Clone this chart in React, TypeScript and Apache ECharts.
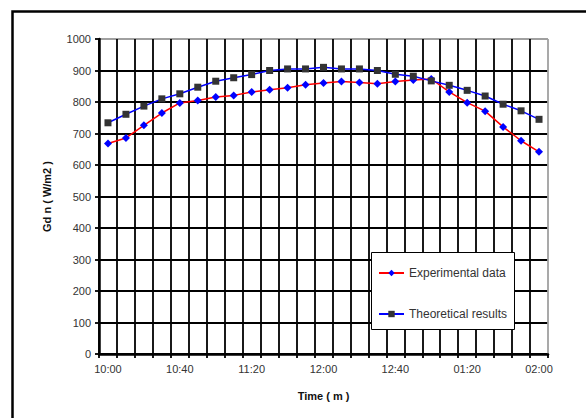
import React, { useEffect, useRef } from "react";
import * as echarts from "echarts";

const categories = [
  "10:00", "10:10", "10:20", "10:30", "10:40", "10:50",
  "11:00", "11:10", "11:20", "11:30", "11:40", "11:50",
  "12:00", "12:10", "12:20", "12:30", "12:40", "12:50",
  "01:00", "01:10", "01:20", "01:30", "01:40", "01:50", "02:00",
];

const experimental = [
  668, 686, 726, 765, 797, 805, 816, 821, 832, 839, 845, 855, 860,
  865, 862, 858, 865, 870, 873, 832, 798, 771, 721, 677, 642,
];

const theoretical = [
  734, 761, 787, 810, 826, 847, 866, 877, 887, 900, 905, 905, 910,
  905, 905, 900, 888, 882, 867, 853, 837, 819, 793, 772, 745,
];

const seriesNames = ["Experimental data", "Theoretical results"];
const yAxisName = "Gd n ( W/m2 )";
const xAxisName = "Time ( m )";

const FONT = "'Liberation Sans', Arial, sans-serif";

// split line colours: black everywhere, grey on the plot's outer (top/right) edge
const xSplitColors = [...categories.map(() => "#000"), "#a0a0a0"];
const ySplitColors = [
  "#000", "#000", "#000", "#000", "#000", "#000",
  "#000", "#000", "#000", "#000", "#a0a0a0",
];

export default function App() {
  const ref = useRef<HTMLDivElement>(null);

  useEffect(() => {
    if (!ref.current) return;
    const chart = echarts.init(ref.current, undefined, { renderer: "svg" });
    chart.setOption({
      animation: false,
      backgroundColor: "#ffffff",
      textStyle: { fontFamily: FONT },
      grid: {
        left: 99,
        top: 39,
        right: 38,
        bottom: 64,
        show: false,
      },
      graphic: [
        {
          type: "polyline",
          z: 10,
          shape: { points: [[12.5, 420], [12.5, 11.5], [590, 11.5]] },
          style: { stroke: "#000", lineWidth: 2.5, fill: "none" },
        },
        {
          type: "rect",
          z: 3,
          shape: { x: 371.5, y: 252.5, width: 143, height: 77 },
          style: { fill: "#fff", stroke: "#000", lineWidth: 1 },
        },
      ],
      legend: {
        data: seriesNames,
        orient: "vertical",
        left: 378,
        top: 267,
        padding: 0,
        itemGap: 29,
        itemWidth: 25,
        itemHeight: 8,
        z: 5,
        textStyle: { fontSize: 12, color: "#333", fontFamily: FONT },
      },
      xAxis: {
        type: "category",
        data: categories,
        boundaryGap: true,
        name: xAxisName,
        nameLocation: "middle",
        nameGap: 36,
        nameTextStyle: { fontSize: 11, fontWeight: "bold", color: "#111" },
        axisLine: { lineStyle: { color: "#000", width: 2.5 } },
        axisTick: {
          show: true,
          interval: 0,
          length: 4,
          lineStyle: { color: "#000", width: 1.8 },
        },
        axisLabel: { interval: 3, margin: 9, fontSize: 11, color: "#333" },
        splitLine: {
          show: true,
          interval: 0,
          lineStyle: { color: xSplitColors, width: 1.8 },
        },
      },
      yAxis: {
        type: "value",
        min: 0,
        max: 1000,
        interval: 100,
        name: yAxisName,
        nameLocation: "middle",
        nameGap: 47,
        nameTextStyle: { fontSize: 11, fontWeight: "bold", color: "#111" },
        axisLine: { show: true, lineStyle: { color: "#000", width: 2.5 } },
        axisTick: { show: true, length: 4, lineStyle: { color: "#000", width: 1.8 } },
        axisLabel: {
          margin: 8,
          fontSize: 11,
          color: "#333",
          formatter: (v: number) => String(v),
        },
        splitLine: { show: true, lineStyle: { color: ySplitColors, width: 1.8 } },
      },
      series: [
        {
          name: seriesNames[0],
          type: "line",
          data: experimental,
          symbol: "diamond",
          symbolSize: 8,
          itemStyle: { color: "#0000ff" },
          lineStyle: { color: "#ff0000", width: 1.5 },
          z: 4,
        },
        {
          name: seriesNames[1],
          type: "line",
          data: theoretical,
          symbol: "rect",
          symbolSize: 7,
          itemStyle: { color: "#333333" },
          lineStyle: { color: "#0000ff", width: 1.5 },
          z: 4,
        },
      ],
    });
    return () => chart.dispose();
  }, []);

  return (
    <div
      ref={ref}
      style={{ position: "fixed", left: 0, top: 0, width: 586, height: 418 }}
    />
  );
}
